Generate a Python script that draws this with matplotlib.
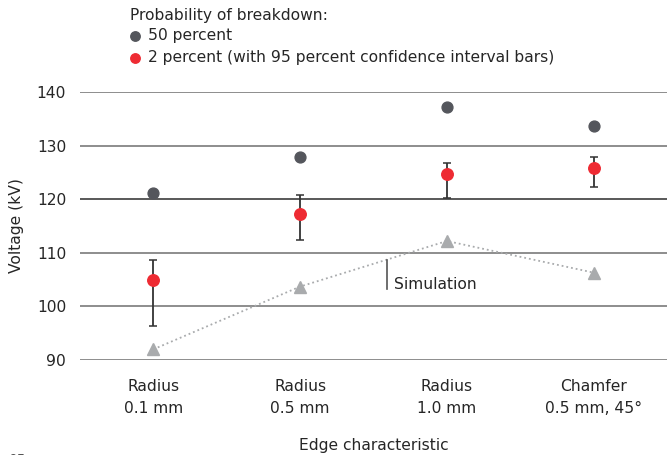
import numpy as np
import matplotlib as mpl
import matplotlib.pyplot as plt

mpl.rcParams['font.family'] = ['DejaVu Sans']

## Data
categories = ['Radius\n0.1 mm', 'Radius\n0.5 mm', 'Radius\n1.0 mm', 'Chamfer\n0.5 mm, 45°']
p50 = [121.1, 127.8, 137.2, 133.6]
p2 = [104.9, 117.3, 124.7, 125.8]
p2_low = [96.4, 112.4, 120.2, 122.2]
p2_high = [108.6, 120.8, 126.7, 127.8]
simulation = [92.0, 103.7, 112.2, 106.3]
yticks = [90, 100, 110, 120, 130, 140]

dark = '#54565c'
red = '#ee2b33'
grey = '#a9abad'
text_col = '#262626'
fs = 11.2

x = np.arange(len(categories))

fig = plt.figure(figsize=(6.67, 4.55), dpi=100)
ax = fig.add_axes([0.12, 0.2088, 0.88, 0.5890])

## Grid lines
for yv in yticks:
    col = '#2b2b2b' if yv == 120 else '#6f6f6f'
    ax.axhline(yv, color=col, lw=1.1, zorder=0)

## Simulation line
ax.plot(x, simulation, ls=':', color=grey, lw=1.3, marker='^', ms=8,
        markeredgecolor=grey, markerfacecolor=grey, zorder=2)

## 2 percent with error bars
err = [np.array(p2) - np.array(p2_low), np.array(p2_high) - np.array(p2)]
ax.errorbar(x, p2, yerr=err, fmt='none', ecolor='#333333', elinewidth=1.3,
            capsize=3, capthick=1.1, zorder=3)
ax.plot(x, p2, 'o', color=red, ms=8.3, zorder=4)

## 50 percent
ax.plot(x, p50, 'o', color=dark, ms=7.8, zorder=4)

## Simulation annotation
ax.plot([1.59, 1.59], [103.2, 108.6], color='#555555', lw=1.2)
ax.text(1.64, 104.0, 'Simulation', fontsize=fs, color=text_col, va='center', ha='left')

ax.set_xlim(-0.5, 3.5)
ax.set_ylim(90, 140)
ax.set_yticks(yticks)
ax.set_xticks(x)
ax.set_xticklabels(categories, fontsize=fs, color=text_col, linespacing=1.55)
ax.tick_params(axis='y', length=0, pad=10, labelsize=fs, labelcolor=text_col)
ax.tick_params(axis='x', length=0, pad=14)
for s in ax.spines.values():
    s.set_visible(False)
ax.set_ylabel('Voltage (kV)', fontsize=fs, color=text_col, labelpad=9)
ax.set_xlabel('Edge characteristic', fontsize=fs, color=text_col, labelpad=16)

## Legend-like header
fig.text(0.195, 0.967, 'Probability of breakdown:', fontsize=fs, color=text_col, va='center')
fig.text(0.222, 0.921, '50 percent', fontsize=fs, color=text_col, va='center')
fig.text(0.222, 0.873, '2 percent (with 95 percent confidence interval bars)', fontsize=fs,
         color=text_col, va='center')
fig.add_artist(mpl.lines.Line2D([0.2024], [0.921], marker='o', ms=6.8, color=dark,
                                transform=fig.transFigure))
fig.add_artist(mpl.lines.Line2D([0.2024], [0.873], marker='o', ms=6.8, color=red,
                                transform=fig.transFigure))

## Cut-off figure label at bottom left
fig.text(0.012, -0.01, '05', fontsize=10, color='#555555', va='center')

fig.savefig('out.png', dpi=100)
